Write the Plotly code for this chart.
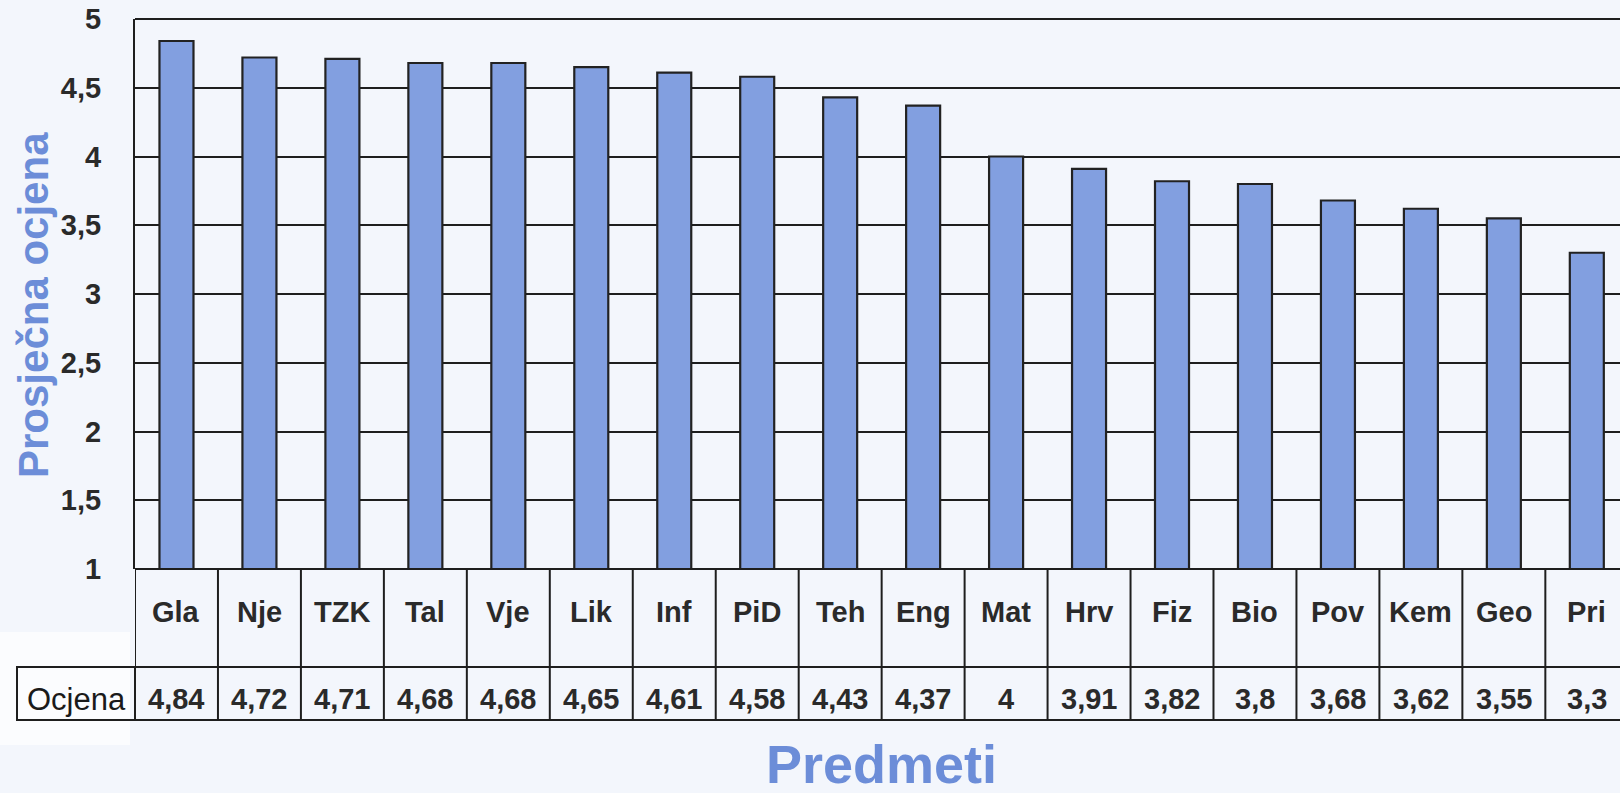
import plotly.graph_objects as go

# ---- data ----
predmeti = ["Gla", "Nje", "TZK", "Tal", "Vje", "Lik", "Inf", "PiD", "Teh",
            "Eng", "Mat", "Hrv", "Fiz", "Bio", "Pov", "Kem", "Geo", "Pri"]
ocjene = [4.84, 4.72, 4.71, 4.68, 4.68, 4.65, 4.61, 4.58, 4.43,
          4.37, 4.00, 3.91, 3.82, 3.80, 3.68, 3.62, 3.55, 3.30]
y_ticks = [1, 1.5, 2, 2.5, 3, 3.5, 4, 4.5, 5]
y_ticktext = ["1", "1,5", "2", "2,5", "3", "3,5", "4", "4,5", "5"]
row_label = "Ocjena"
y_title = "Prosječna ocjena"
x_title = "Predmeti"

# ---- layout constants (pixels) ----
W, H = 1620, 793
ML, MR, MT, MB = 135, 0, 19, 224
PH = H - MT - MB
PW = W - ML - MR
BG = "#F3F6FC"
BLUE_T = "#6C8DD8"
BAR = "#829FE0"
FONT = "Liberation Sans, Arial, sans-serif"
TXT = "#2a2a2a"


def py(pix):  # pixel y -> paper y
    return (H - MB - pix) / PH


def px(pix):  # pixel x -> paper x
    return (pix - ML) / PW


row1_bot = py(667)
row2_bot = py(720)

x_idx = list(range(len(predmeti)))

fig = go.Figure()
fig.add_trace(go.Bar(
    x=x_idx, y=ocjene, width=0.41,
    marker=dict(color=BAR, line=dict(color="#222222", width=2.2)),
    hovertext=predmeti, showlegend=False,
))

shapes = []
annotations = []
line = dict(color="#1e1e1e", width=2)

# white patch behind the row label (scan)
shapes.append(dict(type="rect", xref="paper", yref="paper", layer="below",
                   x0=px(0), x1=px(130), y0=py(745), y1=py(632),
                   fillcolor="#FBFCFE", line=dict(width=0)))
# top border of plot
shapes.append(dict(type="line", xref="paper", yref="paper",
                   x0=0, x1=1, y0=1, y1=1, line=line))
# horizontal table lines
for yy in [0, row1_bot, row2_bot]:
    shapes.append(dict(type="line", xref="paper", yref="paper",
                       x0=0, x1=1, y0=yy, y1=yy, line=line))
# vertical table lines
for i in range(len(predmeti) + 1):
    shapes.append(dict(type="line", xref="x", yref="paper",
                       x0=i - 0.5, x1=i - 0.5, y0=0, y1=row2_bot, line=line))
# row label cell
shapes.append(dict(type="rect", xref="paper", yref="paper",
                   x0=px(17), x1=0, y0=row2_bot, y1=row1_bot, line=line))

cell_font = dict(family=FONT, size=29, color=TXT)
for i, (cat, v) in enumerate(zip(predmeti, ocjene)):
    annotations.append(dict(x=i, y=py(612), xref="x", yref="paper",
                            xanchor="center", yanchor="middle",
                            text=f"<b>{cat}</b>", showarrow=False, font=cell_font))
    annotations.append(dict(x=i, y=py(699), xref="x", yref="paper",
                            xanchor="center", yanchor="middle",
                            text=f"<b>{v:g}</b>".replace(".", ","),
                            showarrow=False, font=cell_font))

annotations.append(dict(x=px(76), y=py(699), xref="paper", yref="paper",
                        xanchor="center", yanchor="middle",
                        text=row_label, showarrow=False,
                        font=dict(family=FONT, size=31, color="#1a1a1a")))
annotations.append(dict(x=px(33), y=py(305), xref="paper", yref="paper",
                        xanchor="center", yanchor="middle",
                        text=f"<b>{y_title}</b>", textangle=-90, showarrow=False,
                        font=dict(family=FONT, size=42, color=BLUE_T)))
annotations.append(dict(x=px(881), y=py(764), xref="paper", yref="paper",
                        xanchor="center", yanchor="middle",
                        text=f"<b>{x_title}</b>", showarrow=False,
                        font=dict(family=FONT, size=54, color=BLUE_T)))

fig.update_layout(
    width=W, height=H,
    margin=dict(l=ML, r=MR, t=MT, b=MB, pad=0),
    paper_bgcolor=BG, plot_bgcolor=BG,
    xaxis=dict(range=[-0.5, 17.4], showticklabels=False, showgrid=False,
               zeroline=False, showline=False, fixedrange=True),
    yaxis=dict(range=[1, 5], tickvals=y_ticks, ticktext=y_ticktext,
               showgrid=True, gridcolor="#1e1e1e", gridwidth=2,
               zeroline=False, showline=True, linecolor="#1e1e1e", linewidth=2,
               ticks="", ticklabelstandoff=26,
               tickfont=dict(family=FONT, size=29, color=TXT, weight="bold")),
    shapes=shapes, annotations=annotations,
)

fig.write_html(
    "out.html",
    config={"displayModeBar": False},
    post_script="document.body.style.margin='0';document.body.style.overflow='hidden';",
)
